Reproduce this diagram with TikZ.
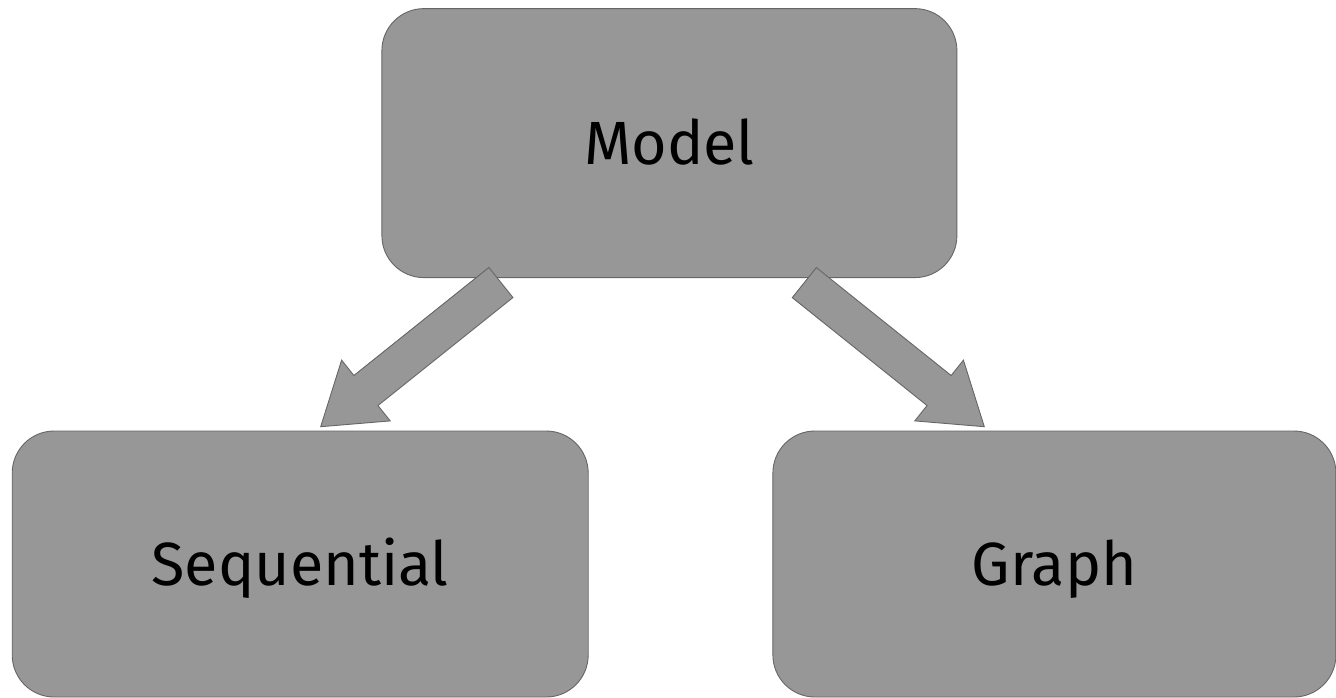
\documentclass[tikz,border=0pt]{standalone}
\usepackage{fontspec}
\setmainfont{Fira Sans}
\usepackage{tikz}
\usetikzlibrary{calc}
\definecolor{boxgray}{RGB}{151,151,151}
\definecolor{edgegray}{RGB}{102,102,102}
\tikzset{
  block/.style={draw=edgegray, fill=boxgray, rounded corners=42pt, inner sep=0pt, line width=0.9pt,
    font=\fontsize{61}{68}\selectfont, text height=42pt, text depth=0pt},
  fatarrow/.style={draw=edgegray, fill=boxgray, line width=0.9pt, line join=miter},
}
% thick block arrow from tail point #1 to tip point #2
\newcommand{\bigarrow}[2]{%
  \coordinate (#1-h) at ($(#2)!57.9pt!(#1)$);
  \draw[fatarrow] ($(#1)!19.25pt!90:(#2)$) -- ($(#1-h)!19.25pt!90:(#2)$)
    -- ($(#1-h)!38.9pt!90:(#2)$) -- (#2) -- ($(#1-h)!38.9pt!-90:(#2)$)
    -- ($(#1-h)!19.25pt!-90:(#2)$) -- ($(#1)!19.25pt!-90:(#2)$) -- cycle;
}

\begin{document}
\begin{tikzpicture}[x=1pt,y=-1pt]
\useasboundingbox (0,0) rectangle (1336,697);
\node[block, minimum width=575pt, minimum height=269pt] (model) at (669.4,143.1) {Model};
\node[block, minimum width=576pt, minimum height=266pt] (seq) at (300.2,564) {Sequential};
\node[block, minimum width=563pt, minimum height=266pt] (graph) at (1054.4,564) {Graph};
% arrows
\coordinate (seqtail) at (500.9,282.5);
\coordinate (seqtip) at (320.7,426.7);
\coordinate (graphtail) at (804.3,282.6);
\coordinate (graphtip) at (984.3,426.7);
\bigarrow{seqtail}{seqtip}
\bigarrow{graphtail}{graphtip}
\end{tikzpicture}
\end{document}
